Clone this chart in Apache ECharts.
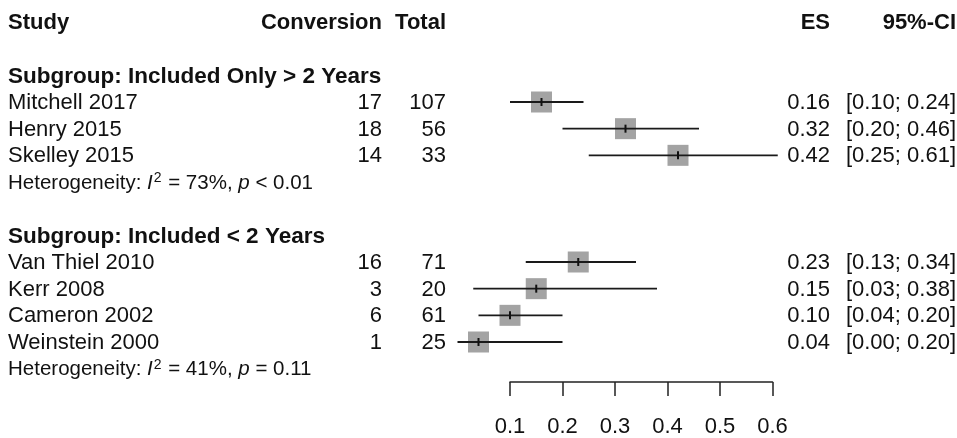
<!DOCTYPE html>
<html>
<head>
<meta charset="utf-8">
<script src="https://cdn.jsdelivr.net/npm/echarts@6/dist/echarts.min.js"></script>
<style>
html,body{margin:0;padding:0;background:#fff;}
#chart{width:957px;height:438px;}
</style>
</head>
<body>
<div id="chart"></div>
<script>
// ---- data ----
var headers = ['Study', 'Conversion', 'Total', 'ES', '95%-CI'];
var subgroupNames = ['Subgroup: Included Only > 2 Years', 'Subgroup: Included < 2 Years'];
var subgroupSizes = [3, 4];
var heterogeneityI2 = ['73%', '41%'];
var heterogeneityP = ['< 0.01', '= 0.11'];
var studies = ['Mitchell 2017', 'Henry 2015', 'Skelley 2015', 'Van Thiel 2010', 'Kerr 2008', 'Cameron 2002', 'Weinstein 2000'];
var conversion = [17, 18, 14, 16, 3, 6, 1];
var total = [107, 56, 33, 71, 20, 61, 25];
var es = [0.16, 0.32, 0.42, 0.23, 0.15, 0.10, 0.04];
var ciLow = [0.10, 0.20, 0.25, 0.13, 0.03, 0.04, 0.00];
var ciHigh = [0.24, 0.46, 0.61, 0.34, 0.38, 0.20, 0.20];
var tickValues = [0.1, 0.2, 0.3, 0.4, 0.5, 0.6];

// ---- build row layout (row indices) ----
var rows = [];
rows.push({type: 'header', row: 0});
var r = 2, si = 0;
var studyRow = [];
for (var g = 0; g < subgroupNames.length; g++) {
  rows.push({type: 'subgroup', row: r, g: g});
  r++;
  for (var k = 0; k < subgroupSizes[g]; k++) {
    rows.push({type: 'study', row: r, s: si});
    studyRow.push(r);
    r++; si++;
  }
  rows.push({type: 'het', row: r, g: g});
  r += 2;
}

var FONT = '"Liberation Sans", Arial, Helvetica, sans-serif';
var FS = 22;
var COL = {study: 8, conv: 382, total: 446, es: 830, ci: 956};

function fmt(v) { return v.toFixed(2); }

var studyData = studies.map(function (n, i) {
  return [es[i], ciLow[i], ciHigh[i], studyRow[i]];
});

var option = {
  animation: false,
  backgroundColor: '#ffffff',
  grid: {left: 510, width: 262.5, top: 22, height: 362},
  xAxis: {
    type: 'value', min: 0.1, max: 0.6, interval: 0.1,
    position: 'bottom',
    axisLine: {show: true, onZero: false, lineStyle: {color: '#222', width: 1.5}},
    axisTick: {show: true, inside: false, length: 14, lineStyle: {color: '#222', width: 1.5}},
    axisLabel: {show: true, margin: 34, fontSize: FS, fontFamily: FONT, color: '#111',
      formatter: function (v) { return (Math.round(v * 10) / 10).toFixed(1); }},
    splitLine: {show: false}
  },
  yAxis: {
    type: 'value', min: 0, max: 13.5, inverse: true, show: false
  },
  series: [
    {
      type: 'custom',
      clip: false,
      data: studyData,
      renderItem: function (params, api) {
        var e = api.value(0), lo = api.value(1), hi = api.value(2), row = api.value(3);
        var pLo = api.coord([lo, row]);
        var pHi = api.coord([hi, row]);
        var pE = api.coord([e, row]);
        var sz = 21;
        return {
          type: 'group',
          children: [
            {type: 'rect', shape: {x: pE[0] - sz / 2, y: pE[1] - sz / 2, width: sz, height: sz},
              style: {fill: '#a3a3a3'}},
            {type: 'line', shape: {x1: pLo[0], y1: pLo[1], x2: pHi[0], y2: pHi[1]},
              style: {stroke: '#1a1a1a', lineWidth: 1.8}},
            {type: 'line', shape: {x1: pE[0], y1: pE[1] - 4, x2: pE[0], y2: pE[1] + 4},
              style: {stroke: '#111', lineWidth: 2}}
          ]
        };
      }
    },
    {
      type: 'custom',
      clip: false,
      data: rows.map(function (o) { return [0.3, o.row]; }),
      renderItem: function (params, api) {
        var o = rows[params.dataIndex];
        var y = api.coord([0.3, api.value(1)])[1] + 1;
        function t(x, text, align, extra) {
          var st = {text: text, x: x, y: y, align: align, verticalAlign: 'middle',
            fontSize: FS, fontFamily: FONT, fill: '#111'};
          if (extra) for (var kk in extra) st[kk] = extra[kk];
          return {type: 'text', style: st};
        }
        var ch = [];
        if (o.type === 'header') {
          var b = {fontWeight: 'bold'};
          ch.push(t(COL.study, headers[0], 'left', b));
          ch.push(t(COL.conv, headers[1], 'right', b));
          ch.push(t(COL.total, headers[2], 'right', b));
          ch.push(t(COL.es, headers[3], 'right', b));
          ch.push(t(COL.ci, headers[4], 'right', b));
        } else if (o.type === 'subgroup') {
          ch.push(t(COL.study, subgroupNames[o.g], 'left', {fontWeight: 'bold', fontSize: 22.5}));
        } else if (o.type === 'study') {
          var s = o.s;
          ch.push(t(COL.study, studies[s], 'left'));
          ch.push(t(COL.conv, String(conversion[s]), 'right'));
          ch.push(t(COL.total, String(total[s]), 'right'));
          ch.push(t(COL.es, fmt(es[s]), 'right'));
          ch.push(t(COL.ci, '[' + fmt(ciLow[s]) + '; ' + fmt(ciHigh[s]) + ']', 'right'));
        } else if (o.type === 'het') {
          ch.push(t(COL.study,
            'Heterogeneity: {i|I}{sup|2} = ' + heterogeneityI2[o.g] + ', {i|p} ' + heterogeneityP[o.g],
            'left', {fontSize: 20.5, rich: {
              i: {fontStyle: 'italic', fontSize: 20.5, fontFamily: FONT, fill: '#111'},
              sup: {fontSize: 14, fontFamily: FONT, fill: '#111', padding: [0, 1, 10, 1]}
            }}));
        }
        return {type: 'group', children: ch};
      }
    }
  ]
};

var chart = echarts.init(document.getElementById('chart'), null, {renderer: 'canvas'});
chart.setOption(option);
</script>
</body>
</html>
